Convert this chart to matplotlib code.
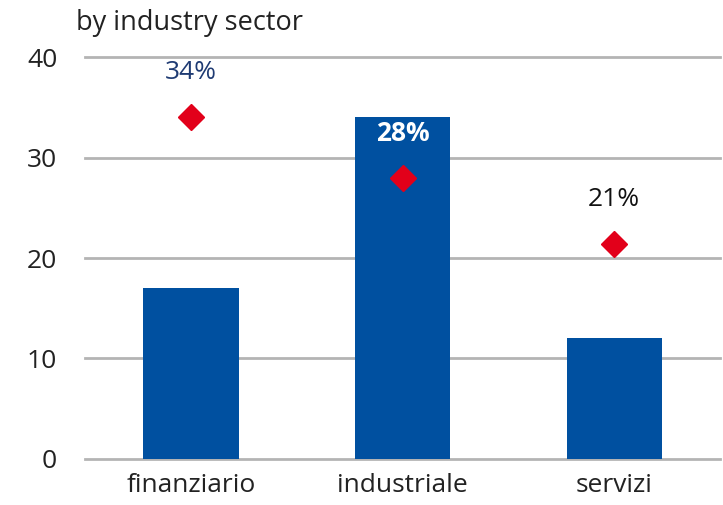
import matplotlib.pyplot as plt

plt.rcParams['font.family'] = ['Open Sans', 'DejaVu Sans']

categories = ['finanziario', 'industriale', 'servizi']
bar_values = [17, 34, 12]
share_values = [34, 28, 21.4]
share_labels = ['34%', '28%', '21%']
label_colors = ['#1f3b73', 'white', '#111111']
label_weights = ['normal', 'bold', 'normal']

fig = plt.figure(figsize=(7.23, 5.05), dpi=100)
ax = fig.add_axes([0.1176, 0.0911, 0.8784, 0.7960])

x = range(len(categories))
ax.bar(x, bar_values, width=0.45, color='#0050a0', zorder=2)
ax.plot(x, share_values, linestyle='none', marker='D', markersize=13,
        color='#e2001a', zorder=3)

for i, (v, lab) in enumerate(zip(share_values, share_labels)):
    ax.annotate(lab, (i, v), xytext=(0, 32), textcoords='offset points',
                ha='center', va='center', fontsize=19, color=label_colors[i],
                fontweight=label_weights[i], zorder=4)

ax.set_xlim(-0.5, 2.5)
ax.set_ylim(0, 40)
ax.set_yticks([0, 10, 20, 30, 40])
ax.set_xticks(list(x))
ax.set_xticklabels(categories)
ax.yaxis.grid(True, color='#b4b4b4', linewidth=2)
for gl in ax.get_ygridlines():
    gl.set_clip_on(False)
ax.set_axisbelow(True)
for s in ax.spines.values():
    s.set_visible(False)
ax.tick_params(axis='both', length=0, labelsize=19, colors='#222222')
ax.tick_params(axis='y', pad=20)
ax.tick_params(axis='x', pad=10)

fig.text(0.105, 0.955, 'by industry sector', fontsize=19.5, color='#222222',
         ha='left', va='center')

fig.savefig('out.png', dpi=100)
